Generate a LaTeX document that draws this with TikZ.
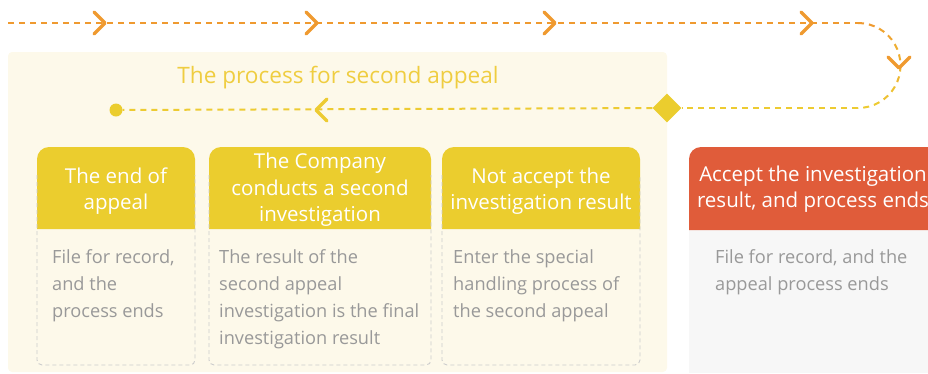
\documentclass[tikz,border=0pt]{standalone}
\usepackage{fontspec}
\setmainfont{Open Sans}
\usetikzlibrary{shapes.geometric}
\definecolor{lineor}{HTML}{EF9A30}
\definecolor{lineye}{HTML}{EDCB32}
\definecolor{hdrye}{HTML}{EBCD2E}
\definecolor{hdror}{HTML}{E05C3A}
\definecolor{bgye}{HTML}{FDF9EA}
\definecolor{bggr}{HTML}{F7F7F7}
\definecolor{bodytx}{HTML}{999999}
\definecolor{brd}{HTML}{CCCCCC}
\definecolor{titleye}{HTML}{EFCD40}
\tikzset{
  flowline/.style={line width=2pt, dash pattern=on 6pt off 5pt},
  chev/.style={line width=3.3pt, line cap=round, line join=round},
  hdrtext/.style={text=white, align=center, font=\fontsize{20.5}{26.5}\selectfont, inner sep=0pt},
  bodytext/.style={text=bodytx, align=left, anchor=north west, font=\fontsize{18.2}{27}\selectfont, inner sep=0pt},
  cardborder/.style={draw=brd, line width=0.9pt, dash pattern=on 4pt off 3pt},
}
\newcommand{\yellowcard}[2]{% x1, x2
  \fill[hdrye] (#1,229) -- (#1,159) arc[start angle=180, end angle=270, radius=12] -- (#2-12,147) arc[start angle=270, end angle=360, radius=12] -- (#2,229) -- cycle;
  \draw[cardborder] (#1,175) -- (#1,360) arc[start angle=180, end angle=90, radius=5] -- (#2-5,365) arc[start angle=90, end angle=0, radius=5] -- (#2,175);
}
\begin{document}
\begin{tikzpicture}[x=1pt,y=-1pt]
\useasboundingbox (0,0) rectangle (928,373);
\clip (0,0) rectangle (928,373);
% background panel
\fill[bgye, rounded corners=4pt] (8,52) rectangle (667,372);
\node[text=titleye, font=\fontsize{22.6}{26}\selectfont, inner sep=0pt] (title) at (338,78) {The process for second appeal};
% top flow line
\coordinate (start) at (8,23);
\coordinate (turn) at (858,23);
\draw[flowline, lineor] (start) -- (turn);
\foreach \i in {0,...,5}{
  \pgfmathsetmacro{\pc}{100-20*\i}
  \pgfmathsetmacro{\sa}{-90+30*\i}
  \pgfmathsetmacro{\ea}{-60+30*\i}
  \draw[line width=2pt, dash pattern=on 6pt off 5pt, color=lineor!\pc!lineye] (858,65.5) ++(\sa:42.5) arc[start angle=\sa, end angle=\ea, radius=42.5];
}
\coordinate (back) at (858,108);
\node[diamond, fill=hdrye, minimum width=29pt, minimum height=29pt, inner sep=0pt] (dia) at (667,108) {};
\node[circle, fill=hdrye, minimum size=13pt, inner sep=0pt] (dot) at (116,110) {};
\draw[flowline, lineye] (back) -- (dia);
\draw[flowline, lineye] (dia) -- (dot);
% chevrons
\foreach \x in {100,312,550,807}{
  \draw[chev, lineor] (\x-6,12) -- (\x+5,23) -- (\x-6,34);
}
\draw[chev, lineor] (888,57) -- (899,68) -- (910,57);
\draw[chev, lineye] (327,99) -- (316,110) -- (327,121);
% cards
\yellowcard{37}{195}
\yellowcard{209}{431}
\yellowcard{442}{640}
\node[hdrtext] (h1) at (116,191) {The end of\\appeal};
\node[hdrtext] (h2) at (320,190) {The Company\\conducts a second\\investigation};
\node[hdrtext] (h3) at (541,191) {Not accept the\\investigation result};
\node[bodytext] (b1) at (52,249) {File for record,\\and the\\process ends};
\node[bodytext] (b2) at (219,249) {The result of the\\second appeal\\investigation is the final\\investigation result};
\node[bodytext] (b3) at (453,249) {Enter the special\\handling process of\\the second appeal};
% orange card
\fill[bggr] (689,230) rectangle (945,373);
\fill[hdror] (689,230) -- (689,159) arc[start angle=180, end angle=270, radius=12] -- (945,147) -- (945,230) -- cycle;
\node[hdrtext] (h4) at (813,189) {Accept the investigation\\result, and process ends};
\node[bodytext] (b4) at (715,249) {File for record, and the\\appeal process ends};
\end{tikzpicture}
\end{document}
